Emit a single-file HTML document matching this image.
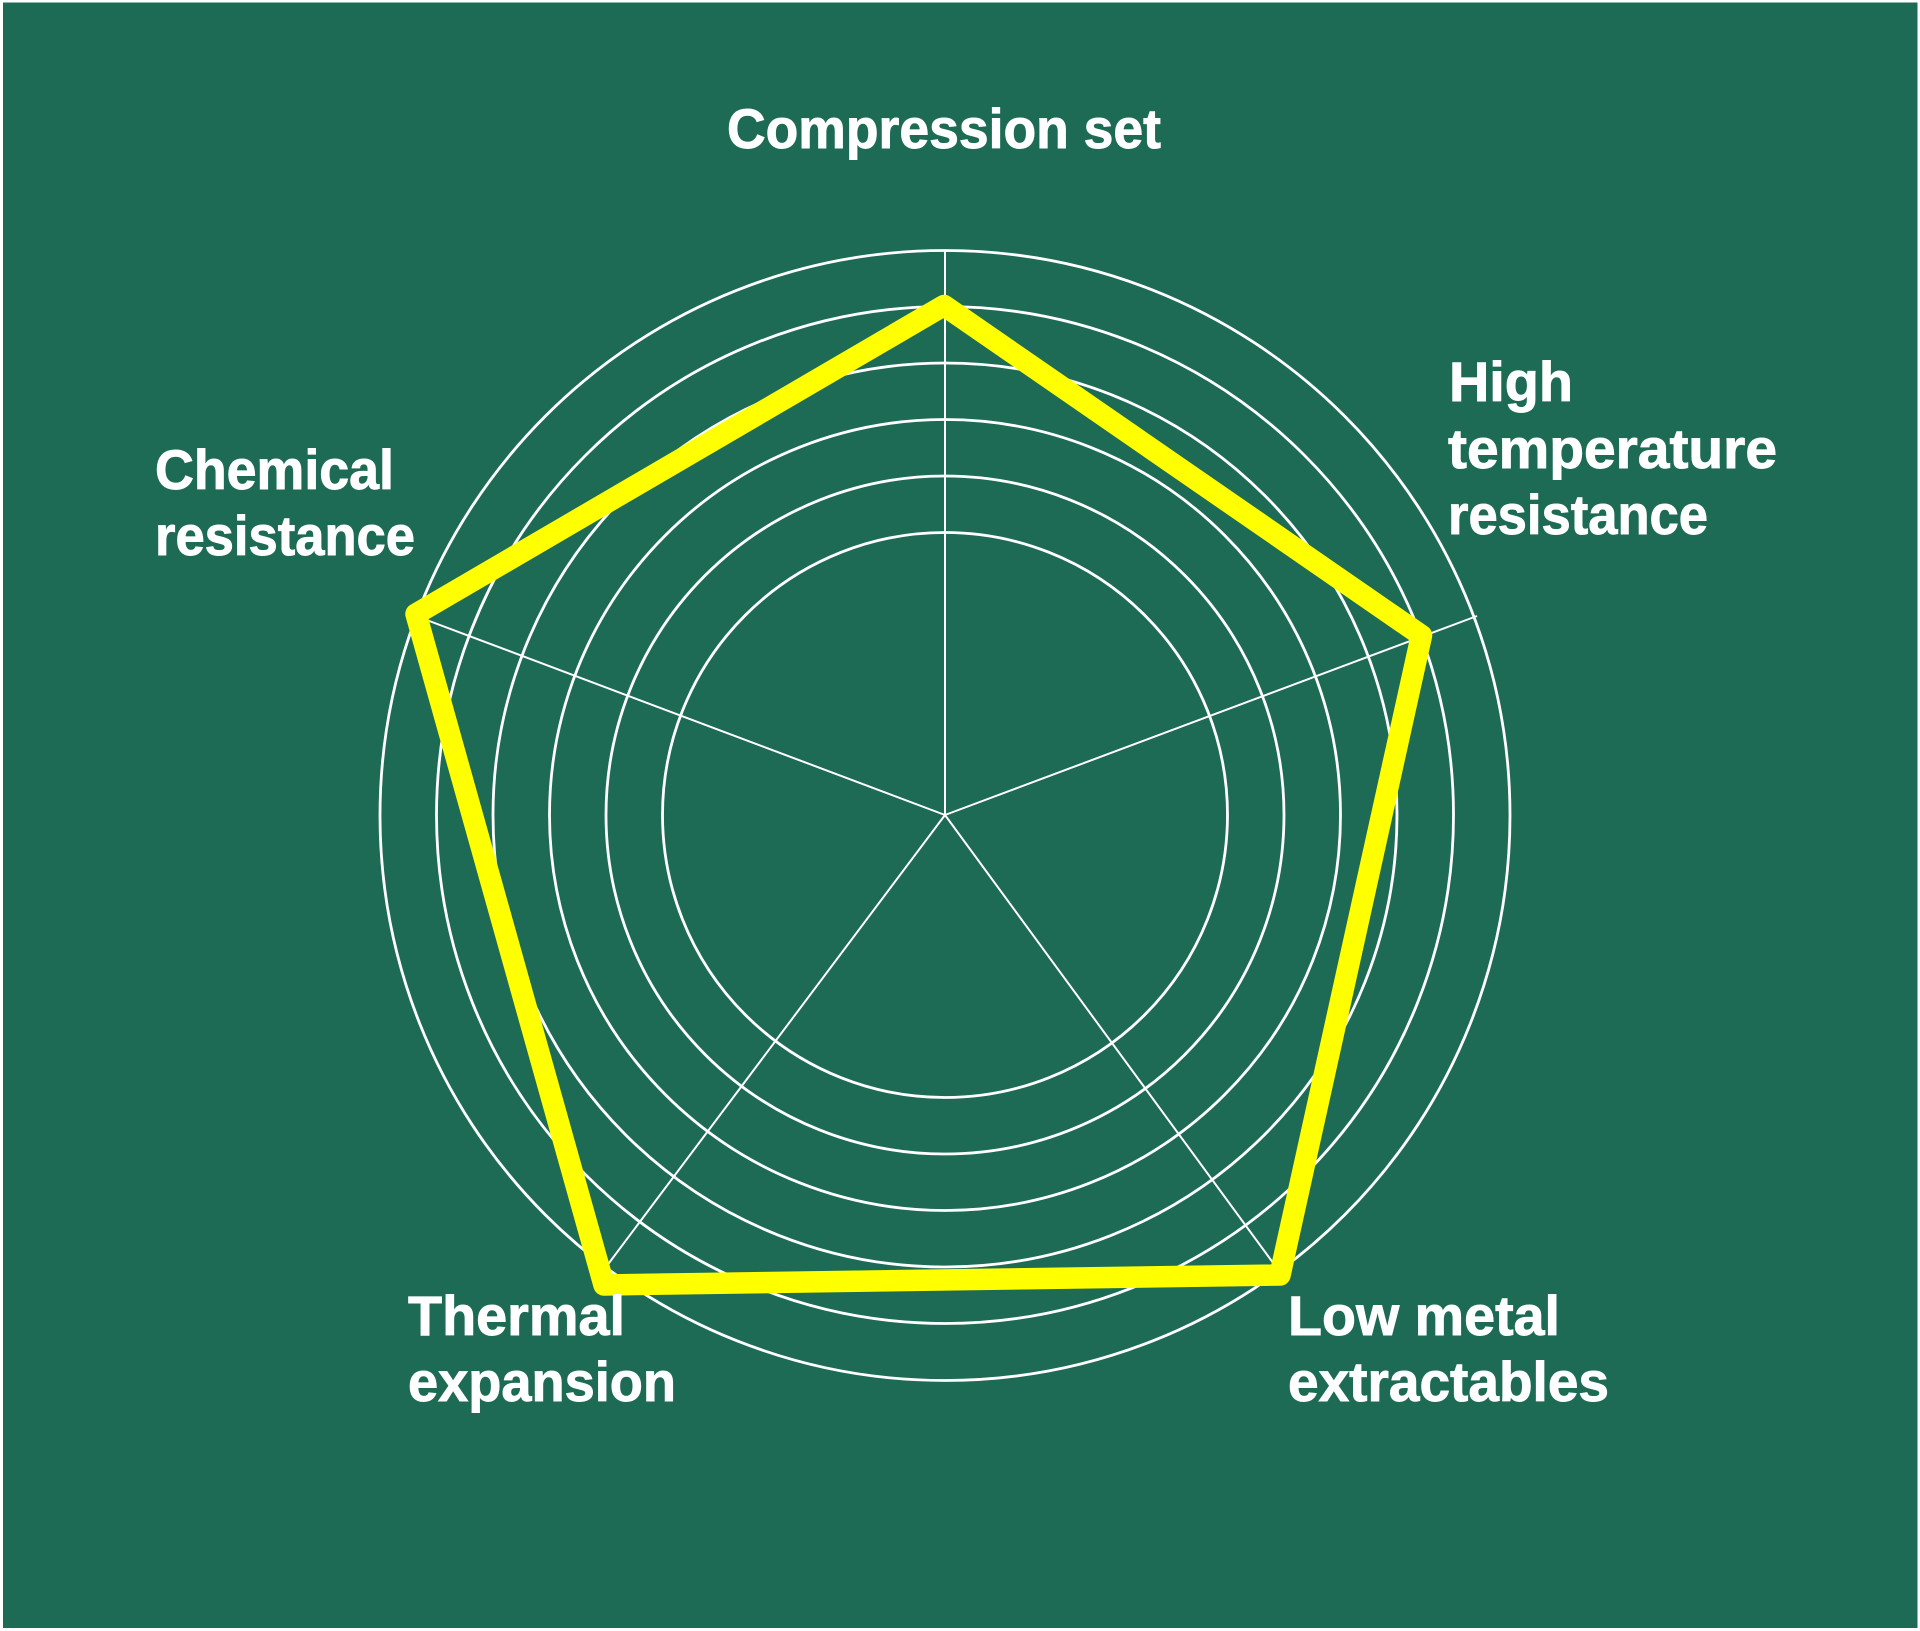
<!DOCTYPE html>
<html lang="en">
<head>
<meta charset="utf-8">
<title>Radar chart</title>
<style>
html,body{margin:0;padding:0;background:#fff;width:1920px;height:1631px;overflow:hidden}
svg{display:block}
text{font-family:"Liberation Sans",sans-serif;font-weight:700;font-size:56px;fill:#fff;stroke:#fff;stroke-width:0.9px}
</style>
</head>
<body>
<svg width="1920" height="1631" viewBox="0 0 1920 1631" xmlns="http://www.w3.org/2000/svg">
<rect x="0" y="0" width="1920" height="1631" fill="#ffffff"/>
<rect x="3" y="2.5" width="1914.5" height="1625.5" fill="#1d6b55"/>
<g fill="none" stroke="#ffffff" stroke-width="2.8">
<circle cx="945" cy="815" r="282.5"/>
<circle cx="945" cy="815" r="339"/>
<circle cx="945" cy="815" r="395.5"/>
<circle cx="945" cy="815" r="452"/>
<circle cx="945" cy="815" r="508.5"/>
<circle cx="945" cy="815.5" r="565"/>
</g>
<g stroke="#ffffff" stroke-width="2">
<line x1="945" y1="815" x2="945" y2="250"/>
<line x1="945" y1="815" x2="1477" y2="616"/>
<line x1="945" y1="815" x2="1279" y2="1271"/>
<line x1="945" y1="815" x2="606" y2="1267"/>
<line x1="945" y1="815" x2="416" y2="616"/>
</g>
<polygon points="944,305.5 1421.5,635.5 1280,1275 604,1285 416,614" fill="none" stroke="#ffff00" stroke-width="21.5" stroke-linejoin="round"/>
<text x="727" y="148" textLength="434" lengthAdjust="spacingAndGlyphs">Compression set</text>
<text x="1449" y="401" textLength="124" lengthAdjust="spacingAndGlyphs">High</text>
<text x="1448" y="468" textLength="329" lengthAdjust="spacingAndGlyphs">temperature</text>
<text x="1448" y="534" textLength="260" lengthAdjust="spacingAndGlyphs">resistance</text>
<text x="155" y="489" textLength="239" lengthAdjust="spacingAndGlyphs">Chemical</text>
<text x="155" y="555" textLength="260" lengthAdjust="spacingAndGlyphs">resistance</text>
<text x="408" y="1335" textLength="217" lengthAdjust="spacingAndGlyphs">Thermal</text>
<text x="408" y="1401" textLength="268" lengthAdjust="spacingAndGlyphs">expansion</text>
<text x="1288" y="1335" textLength="272" lengthAdjust="spacingAndGlyphs">Low metal</text>
<text x="1288" y="1401" textLength="321" lengthAdjust="spacingAndGlyphs">extractables</text>
</svg>
</body>
</html>
